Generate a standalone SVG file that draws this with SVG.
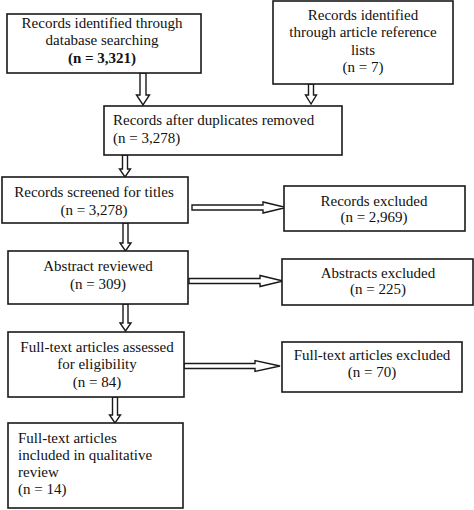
<svg xmlns="http://www.w3.org/2000/svg" width="474" height="510" viewBox="0 0 474 510">
<style>
rect{fill:#fff;stroke:#1a1a1a;stroke-width:1.6}
text{font-family:"Liberation Serif","Times New Roman",serif;font-size:15px;fill:#111}
.c{text-anchor:middle}
.b{font-weight:bold}
#connectors path{fill:#fff;stroke:#1a1a1a;stroke-width:1.4;stroke-linejoin:miter}
</style>
<rect x="0" y="0" width="474" height="510" style="fill:#fff;stroke:none"/>
<g id="connectors">
<path d="M140,73 V95 H136.5 L143,105 L149.5,95 H146 V73 Z"/>
<path d="M308.5,84 V95 H305.5 L311,104 L316.5,95 H313.5 V84 Z"/>
<path d="M122.5,155 V169 H119.5 L125,177 L130.5,169 H127.5 V155 Z"/>
<path d="M123,223 V243 H120 L125.5,251 L131,243 H128 V223 Z"/>
<path d="M123,304 V323 H120 L125.5,331 L131,323 H128 V304 Z"/>
<path d="M112.5,397 V415 H109.5 L115,423 L120.5,415 H117.5 V397 Z"/>
<path d="M192,205 H263 V202 L286,207.5 L263,213 V210 H192 Z"/>
<path d="M189,278.5 H260 V275.5 L283,281 L260,286.5 V283.5 H189 Z"/>
<path d="M184,363.5 H255 V360.5 L280,366 L255,371.5 V368.5 H184 Z"/>
</g>
<g id="n1">
<rect x="7" y="14" width="194" height="59"/>
<text class="c" x="102" y="28">Records identified through</text>
<text class="c" x="102" y="45">database searching</text>
<text class="c b" x="102" y="63">(n = 3,321)</text>
</g>
<g id="n2">
<rect x="273" y="1" width="180" height="83"/>
<text class="c" x="363" y="20">Records identified</text>
<text class="c" x="363" y="37">through article reference</text>
<text class="c" x="363" y="55">lists</text>
<text class="c" x="363" y="72">(n = 7)</text>
</g>
<g id="n3">
<rect x="104" y="106" width="238" height="49"/>
<text x="113" y="125">Records after duplicates removed</text>
<text x="113" y="143">(n = 3,278)</text>
</g>
<g id="n4">
<rect x="2" y="177" width="186" height="46"/>
<text class="c" x="94" y="197">Records screened for titles</text>
<text class="c" x="94" y="215">(n = 3,278)</text>
</g>
<g id="n5">
<rect x="284" y="186" width="181" height="45"/>
<text class="c" x="374" y="206">Records excluded</text>
<text class="c" x="374" y="222">(n = 2,969)</text>
</g>
<g id="n6">
<rect x="8" y="251" width="180" height="53"/>
<text class="c" x="98" y="271">Abstract reviewed</text>
<text class="c" x="98" y="289">(n = 309)</text>
</g>
<g id="n7">
<rect x="282" y="259" width="191" height="46"/>
<text class="c" x="378" y="278">Abstracts excluded</text>
<text class="c" x="378" y="294">(n = 225)</text>
</g>
<g id="n8">
<rect x="8" y="332" width="176" height="65"/>
<text class="c" x="97" y="352">Full-text articles assessed</text>
<text class="c" x="97" y="369">for eligibility</text>
<text class="c" x="97" y="387">(n = 84)</text>
</g>
<g id="n9">
<rect x="282" y="342" width="180" height="50"/>
<text class="c" x="372" y="360">Full-text articles excluded</text>
<text class="c" x="372" y="377">(n = 70)</text>
</g>
<g id="n10">
<rect x="8" y="423" width="175" height="85"/>
<text x="18" y="443">Full-text articles</text>
<text x="18" y="460">included in qualitative</text>
<text x="18" y="477">review</text>
<text x="18" y="494">(n = 14)</text>
</g>
</svg>
